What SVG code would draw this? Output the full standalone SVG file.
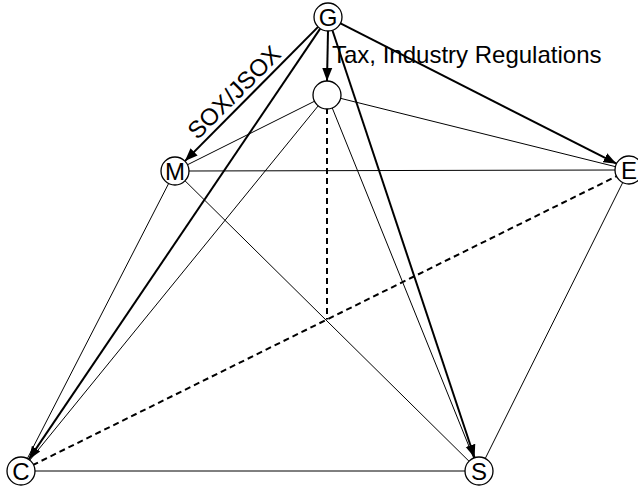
<svg xmlns="http://www.w3.org/2000/svg" width="638" height="488" viewBox="0 0 638 488">
<style>
.node circle{fill:#fff;stroke:#000;stroke-width:1.3}
.node text{font-family:"Liberation Sans",Arial,sans-serif;font-size:24px;text-anchor:middle;fill:#000}
.thin{stroke:#000;stroke-width:1;fill:none}
.thick{stroke:#000;stroke-width:2;fill:none;marker-end:url(#arr)}
.dash{stroke:#000;stroke-width:2;fill:none;stroke-dasharray:6,4}
.lbl{font-family:"Liberation Sans",Arial,sans-serif;font-size:24px;fill:#000}
</style>
<defs>
<marker id="arr" markerUnits="userSpaceOnUse" markerWidth="14" markerHeight="12" viewBox="0 0 14 12" refX="13" refY="6" orient="auto">
<path d="M0,1 L13,6 L0,11 Z" fill="#000"/>
</marker>
</defs>
<rect width="638" height="488" fill="#fff"/>
<g id="connectors">
<line class="thin" x1="315.4" y1="100.8" x2="186.6" y2="165.2"/>
<line class="thin" x1="339.6" y1="98.1" x2="616.4" y2="166.9"/>
<line class="thin" x1="318.8" y1="105.1" x2="29.2" y2="460.9"/>
<line class="thin" x1="331.9" y1="107.1" x2="474.1" y2="459"/>
<line class="thin" x1="188" y1="171" x2="616" y2="170"/>
<line class="thin" x1="169.1" y1="182.6" x2="26.9" y2="459.4"/>
<line class="thin" x1="184.3" y1="180.1" x2="469.7" y2="461.9"/>
<line class="thin" x1="623.2" y1="181.6" x2="484.8" y2="459.4"/>
<line class="thin" x1="34" y1="471" x2="466" y2="471" stroke="#555"/>
<line class="dash" x1="32.6" y1="465.2" x2="617.4" y2="175.8"/>
<line class="dash" x1="327" y1="108" x2="327" y2="319.5"/>
<line class="thick" x1="328" y1="31" x2="327" y2="81"/>
<line class="thick" x1="318.1" y1="26.9" x2="184.9" y2="161.1"/>
<line class="thick" x1="320.2" y1="28.6" x2="28.8" y2="459.4"/>
<line class="thick" x1="332.4" y1="30.3" x2="474.6" y2="457.7"/>
<line class="thick" x1="340.5" y1="23.3" x2="616.5" y2="163.7"/>
</g>
<g id="node-G" class="node"><circle cx="328" cy="17" r="14"/><text x="328" y="25.5">G</text></g>
<g id="node-I" class="node"><circle cx="327" cy="95" r="14"/></g>
<g id="node-M" class="node"><circle cx="175" cy="171" r="14"/><text x="175" y="179.5">M</text></g>
<g id="node-E" class="node"><circle cx="629" cy="170" r="14"/><text x="629" y="178.5">E</text></g>
<g id="node-C" class="node"><circle cx="21" cy="471" r="14"/><text x="21" y="479.5">C</text></g>
<g id="node-S" class="node"><circle cx="479" cy="471" r="14"/><text x="479" y="479.5">S</text></g>
<text class="lbl" x="332" y="63">Tax, Industry Regulations</text>
<text class="lbl" x="240" y="98" text-anchor="middle" transform="rotate(-45 240 98)">SOX/JSOX</text>
</svg>
